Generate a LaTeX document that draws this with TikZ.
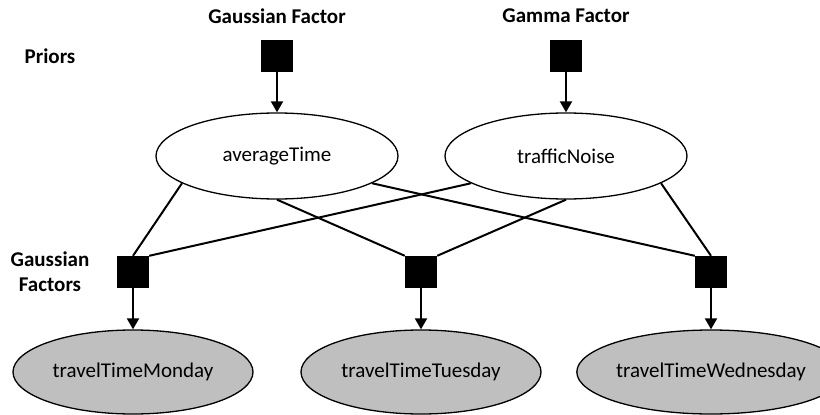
\documentclass[tikz,border=0pt]{standalone}
\usepackage{fontspec}
\setmainfont{Carlito}
\usetikzlibrary{shapes.geometric,arrows.meta}
\definecolor{obsgray}{RGB}{191,191,191}
\begin{document}
\begin{tikzpicture}[x=1pt,y=-1pt,
  every node/.style={font=\fontsize{21}{25}\selectfont},
  var/.style={ellipse, draw, line width=1.3pt, minimum width=242pt, minimum height=86pt, inner sep=0pt},
  obs/.style={var, fill=obsgray, minimum width=240pt, minimum height=84pt},
  factor/.style={rectangle, fill=black, minimum size=32pt, inner sep=0pt},
  lbl/.style={font=\fontsize{21}{25}\selectfont\bfseries, align=center},
  edge/.style={line width=2pt},
  arr/.style={line width=2pt, -{Triangle[length=11pt,width=12pt]}}]
\useasboundingbox (0,0) rectangle (820,415);
\node[lbl] (lgf) at (277,16) {Gaussian Factor};
\node[lbl] (lgm) at (566,16) {Gamma Factor};
\node[lbl] (lpr) at (50,56) {Priors};
\node[lbl] (lgfs) at (50,272) {Gaussian\\Factors};
\node[factor] (fg) at (277,56) {};
\node[factor] (fm) at (566,56) {};
\node[var] (avg) at (277,156) {averageTime};
\node[var] (tn) at (566,156) {trafficNoise};
\node[factor] (f1) at (133,272) {};
\node[factor] (f2) at (421,272) {};
\node[factor] (f3) at (711,272) {};
\node[obs] (o1) at (133,372) {travelTimeMonday};
\node[obs] (o2) at (421,372) {travelTimeTuesday};
\node[obs] (o3) at (711,372) {travelTimeWednesday};
\draw[arr] (fg) -- (avg);
\draw[arr] (fm) -- (tn);
\draw[arr] (f1) -- (o1);
\draw[arr] (f2) -- (o2);
\draw[arr] (f3) -- (o3);
\draw[edge] (avg.196) -- (f1.north);
\draw[edge] (avg.south) -- (f2.north west);
\draw[edge] (avg.-16) -- (f3.north west);
\draw[edge] (tn.196) -- (f1.north east);
\draw[edge] (tn.south) -- (f2.north east);
\draw[edge] (tn.-16) -- (f3.north);
\end{tikzpicture}
\end{document}
